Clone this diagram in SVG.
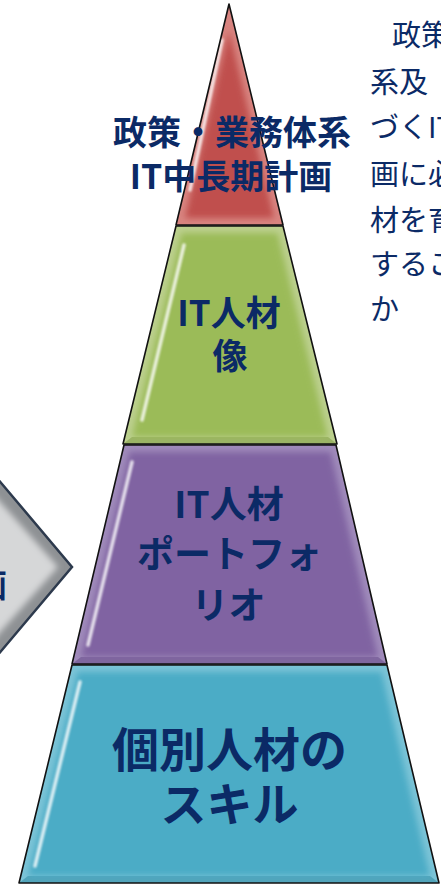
<svg xmlns="http://www.w3.org/2000/svg" width="441" height="885" viewBox="0 0 441 885">
<style>
.lbl{font-family:"Noto Sans CJK JP","Noto Sans CJK SC",sans-serif;font-weight:bold;fill:#0b2a66;text-anchor:middle}
.side{font-family:"Noto Sans CJK JP","Noto Sans CJK SC",sans-serif;font-size:29px;fill:#0b2a66}
.edge{fill:none;stroke:#111;stroke-width:1.6;stroke-linejoin:round}
.hl{stroke:#fff;stroke-width:3.5;stroke-linecap:round;opacity:.8;filter:url(#blur2)}
.dark{opacity:.55}
</style>
<defs>
<filter id="blur3" x="-20%" y="-20%" width="140%" height="140%"><feGaussianBlur stdDeviation="3"/></filter>
<filter id="blur2" x="-50%" y="-10%" width="200%" height="120%"><feGaussianBlur stdDeviation="1"/></filter>
<clipPath id="cRed"><polygon points="229,4 283,225 176,225"/></clipPath>
<clipPath id="cGreen"><polygon points="176,226 283,226 337,444 123,444"/></clipPath>
<clipPath id="cPurple"><polygon points="124,445 336,445 387,664 72,664"/></clipPath>
<clipPath id="cBlue"><polygon points="72,665 387,665 439,883 19,883"/></clipPath>
<clipPath id="cArrow"><polygon points="-30,446 72,567 -30,688"/></clipPath>
</defs>

<g id="arrow">
<polygon points="-30,446 72,567 -30,688" fill="#8e9194"/>
<g clip-path="url(#cArrow)">
<polygon points="-30,468 58,567 -30,666" fill="#d6d7d8" filter="url(#blur3)"/>
</g>
<polygon points="-30,446 72,567 -30,688" fill="none" stroke="#2d3a4d" stroke-width="2.5" stroke-linejoin="miter"/>
<text class="lbl" x="7" y="597" font-size="32" style="text-anchor:end">画</text>
</g>

<g id="seg-red">
<polygon points="229,4 283,225 176,225" fill="#d88480"/>
<g clip-path="url(#cRed)">
<polygon class="dark" points="229,228 176,225 283,225" fill="#9e3f3c"/>
<polygon points="229,30 274,218 185,218" fill="#c0504d" filter="url(#blur3)"/>
<line class="hl" x1="222" y1="40" x2="190" y2="190"/>
</g>
<polygon class="edge" points="229,4 283,225 176,225"/>
<text class="lbl" x="232" y="145" font-size="34">政策・業務体系</text>
<text class="lbl" x="231" y="189" font-size="34">IT中長期計画</text>
</g>

<g id="seg-green">
<polygon points="176,226 283,226 337,444 123,444" fill="#bcd08e"/>
<g clip-path="url(#cGreen)">
<polygon class="dark" points="123,444 337,444 328,437 132,437" fill="#7f9a45"/>
<polygon points="181.5,233 277.5,233 328,437 132,437" fill="#9bbb59" filter="url(#blur3)"/>
<line class="hl" x1="184" y1="245" x2="142" y2="420"/>
</g>
<polygon class="edge" points="176,226 283,226 337,444 123,444"/>
<text class="lbl" x="229" y="326" font-size="35">IT人材</text>
<text class="lbl" x="230" y="369" font-size="35">像</text>
</g>

<g id="seg-purple">
<polygon points="124,445 336,445 387,664 72,664" fill="#a08bbb"/>
<g clip-path="url(#cPurple)">
<polygon class="dark" points="72,664 387,664 378,657 81,657" fill="#644a86"/>
<polygon points="129.5,452 330.5,452 378,657 81,657" fill="#8064a2" filter="url(#blur3)"/>
<line class="hl" x1="132" y1="462" x2="88" y2="645"/>
</g>
<polygon class="edge" points="124,445 336,445 387,664 72,664"/>
<text class="lbl" x="229" y="518" font-size="37">IT人材</text>
<text class="lbl" x="229.5" y="568" font-size="37">ポートフォ</text>
<text class="lbl" x="228.5" y="619" font-size="37">リオ</text>
</g>

<g id="seg-blue">
<polygon points="72,665 387,665 439,883 19,883" fill="#7cc4d7"/>
<g clip-path="url(#cBlue)">
<polygon class="dark" points="19,883 439,883 430,876 28,876" fill="#2f8aa3"/>
<polygon points="77.5,672 381.5,672 430,876 28,876" fill="#4bacc6" filter="url(#blur3)"/>
<line class="hl" x1="80" y1="682" x2="35" y2="866"/>
</g>
<polygon class="edge" points="72,665 387,665 439,883 19,883"/>
<text class="lbl" x="229.5" y="767" font-size="47">個別人材の</text>
<text class="lbl" x="229.5" y="821" font-size="46">スキル</text>
</g>

<g id="side-text">
<text class="side" x="392" y="46">政策</text>
<text class="side" x="370" y="93">系及</text>
<text class="side" x="370" y="138">づくIT</text>
<text class="side" x="370" y="185">画に必</text>
<text class="side" x="370" y="231">材を育</text>
<text class="side" x="370" y="275">するこ</text>
<text class="side" x="370" y="320">か</text>
</g>

<g id="connectors"></g>
</svg>
